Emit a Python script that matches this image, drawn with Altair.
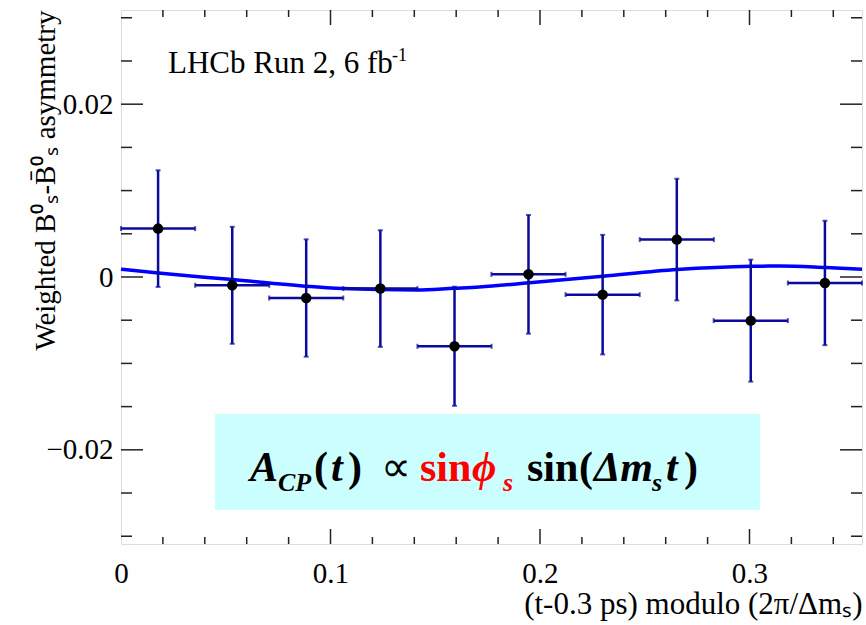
import altair as alt
import pandas as pd

# ---- data ----
X_CENTER = [0.0177, 0.0531, 0.0884, 0.1238, 0.1592, 0.1945, 0.2299, 0.2653, 0.3006, 0.3360]
X_HALF = [0.0177, 0.0177, 0.0177, 0.0177, 0.0177, 0.0177, 0.0177, 0.0177, 0.0177, 0.0177]
Y_VALUE = [0.0056, -0.00096, -0.00243, -0.00134, -0.00802, 0.00031, -0.00204, 0.00433, -0.00505, -0.00069]
Y_ERR = [0.00675, 0.00677, 0.00679, 0.00675, 0.00689, 0.00687, 0.00692, 0.00704, 0.00706, 0.0072]

CURVE_X = [0.0, 0.0178, 0.0533, 0.0886, 0.106, 0.124, 0.141, 0.159, 0.171, 0.195, 0.230, 0.2655, 0.301, 0.3146, 0.3364, 0.3537]
CURVE_Y = [0.0009, 0.00046, -0.0003, -0.00108, -0.00134, -0.00146, -0.0015, -0.0013, -0.00116, -0.00067, 0.00008, 0.00086, 0.00124, 0.00127, 0.00109, 0.0009]

X_TICKS_LABELLED = [0, 0.1, 0.2, 0.3]
Y_TICKS_LABELLED = [-0.02, 0, 0.02]
X_MAJOR = [0.1, 0.2, 0.3]
X_MINOR = [0.02, 0.04, 0.06, 0.08, 0.12, 0.14, 0.16, 0.18, 0.22, 0.24, 0.26, 0.28, 0.32, 0.34]
Y_MAJOR = [-0.02, 0.0, 0.02]
Y_MINOR = [-0.03, -0.025, -0.015, -0.01, -0.005, 0.005, 0.01, 0.015, 0.025, 0.03]

X_DOMAIN = [0, 0.3537]
Y_DOMAIN = [-0.0309, 0.0309]

W, H = 741, 534
SERIF = "Liberation Serif, Times New Roman, Times, serif"
BAR_COLOR = "#0a0a9c"

xs = alt.Scale(domain=X_DOMAIN, nice=False, zero=False)
ys = alt.Scale(domain=Y_DOMAIN, nice=False, zero=False)

points = pd.DataFrame({"x": X_CENTER, "xh": X_HALF, "y": Y_VALUE, "e": Y_ERR})
curve = pd.DataFrame({"x": CURVE_X, "y": CURVE_Y})

base = alt.Chart(points).transform_calculate(
    xlo="datum.x - datum.xh", xhi="datum.x + datum.xh",
    ylo="datum.y - datum.e", yhi="datum.y + datum.e",
)

x_axis = alt.Axis(
    values=X_TICKS_LABELLED, ticks=False, domain=False, grid=False,
    labelExpr="datum.value == 0 ? '0' : format(datum.value, '.1f')",
    labelFont=SERIF, labelFontSize=29, labelColor="black", labelPadding=15,
    labelFlush=False, labelOverlap=False,
    title="(t-0.3 ps) modulo (2π/Δmₛ)", titleFont=SERIF, titleFontSize=31,
    titleFontWeight="normal", titleColor="black", titleAnchor="end",
    titleAlign="right", titleBaseline="alphabetic", titleX=W, titleY=69,
)
y_axis = alt.Axis(
    values=Y_TICKS_LABELLED, ticks=False, domain=False, grid=False,
    labelExpr="datum.value == 0 ? '0' : (datum.value < 0 ? '\u2212' : '') + format(abs(datum.value), '.2f')",
    labelFont=SERIF, labelFontSize=29, labelColor="black", labelPadding=8,
    labelOverlap=False, labelFlush=False,
    title="Weighted B⁰ₛ-B̄⁰ₛ asymmetry", titleFont=SERIF, titleFontSize=29,
    titleFontWeight="normal", titleColor="black", titleAnchor="end",
    titleAngle=270, titleAlign="right", titleBaseline="middle", titleX=-76, titleY=0,
)

line = alt.Chart(curve).mark_line(color="#0000ff", strokeWidth=3.5, interpolate="monotone").encode(
    x=alt.X("x:Q", scale=xs, axis=x_axis),
    y=alt.Y("y:Q", scale=ys, axis=y_axis),
)

vbar = base.mark_rule(color=BAR_COLOR, strokeWidth=2.5).encode(
    x=alt.X("x:Q", scale=xs), y=alt.Y("ylo:Q", scale=ys), y2="yhi:Q")
hbar = base.mark_rule(color=BAR_COLOR, strokeWidth=2.5).encode(
    x=alt.X("xlo:Q", scale=xs), x2="xhi:Q", y=alt.Y("y:Q", scale=ys))
cap_top = base.mark_tick(color=BAR_COLOR, orient="horizontal", size=5, thickness=2).encode(
    x=alt.X("x:Q", scale=xs), y=alt.Y("yhi:Q", scale=ys))
cap_bot = base.mark_tick(color=BAR_COLOR, orient="horizontal", size=5, thickness=2).encode(
    x=alt.X("x:Q", scale=xs), y=alt.Y("ylo:Q", scale=ys))
cap_l = base.mark_tick(color=BAR_COLOR, orient="vertical", size=5, thickness=2).encode(
    x=alt.X("xlo:Q", scale=xs), y=alt.Y("y:Q", scale=ys))
cap_r = base.mark_tick(color=BAR_COLOR, orient="vertical", size=5, thickness=2).encode(
    x=alt.X("xhi:Q", scale=xs), y=alt.Y("y:Q", scale=ys))
dots = base.mark_circle(color="black", opacity=1, size=110).encode(
    x=alt.X("x:Q", scale=xs), y=alt.Y("y:Q", scale=ys))


def xticks(vals, length):
    df = pd.DataFrame({"v": vals})
    bot = alt.Chart(df).mark_rule(color="#222", strokeWidth=1.5).encode(
        x=alt.X("v:Q", scale=xs), y=alt.value(H), y2=alt.value(H - length))
    top = alt.Chart(df).mark_rule(color="#222", strokeWidth=1.5).encode(
        x=alt.X("v:Q", scale=xs), y=alt.value(0), y2=alt.value(length))
    return [bot, top]


def yticks(vals, length):
    df = pd.DataFrame({"v": vals})
    left = alt.Chart(df).mark_rule(color="#222", strokeWidth=1.5).encode(
        y=alt.Y("v:Q", scale=ys), x=alt.value(0), x2=alt.value(length))
    right = alt.Chart(df).mark_rule(color="#222", strokeWidth=1.5).encode(
        y=alt.Y("v:Q", scale=ys), x=alt.value(W), x2=alt.value(W - length))
    return [left, right]


tick_layers = xticks(X_MAJOR, 15) + xticks(X_MINOR, 7) + yticks(Y_MAJOR, 22) + yticks(Y_MINOR, 11)

one = alt.Data(values=[{}])


def label(text, x, y, size, color="black", weight="normal", style="normal", align="left", baseline="alphabetic"):
    return alt.Chart(one).mark_text(
        text=text, font=SERIF, fontSize=size, color=color, fontWeight=weight,
        fontStyle=style, align=align, baseline=baseline,
    ).encode(x=alt.value(x), y=alt.value(y))


box = alt.Chart(one).mark_rect(color="#ccffff", opacity=1).encode(
    x=alt.value(94), x2=alt.value(639), y=alt.value(404), y2=alt.value(500))

OX, OY = 121, 10  # page offset of plot origin
BL, SB = 481 - OY, 491 - OY
FS, SS = 42, 26
RED = "#ff0000"
formula = [
    label("A", 250 - OX, BL, FS, weight="bold", style="italic"),
    label("CP", 278 - OX, SB, SS, weight="bold", style="italic"),
    label("(", 314 - OX, BL, FS, weight="bold"),
    label("t", 331 - OX, BL, FS, weight="bold", style="italic"),
    label(")", 348 - OX, BL, FS, weight="bold"),
    label("∝", 381 - OX, BL, FS),
    label("sin", 420 - OX, BL, FS, color=RED, weight="bold"),
    label("ϕ", 472 - OX, BL, FS, color=RED, weight="bold", style="italic"),
    label("s", 503 - OX, SB, SS, color=RED, weight="bold", style="italic"),
    label("sin", 527 - OX, BL, FS, weight="bold"),
    label("(", 579 - OX, BL, FS, weight="bold"),
    label("Δm", 594 - OX, BL, FS, weight="bold", style="italic"),
    label("s", 652 - OX, SB, SS, weight="bold", style="italic"),
    label("t", 666 - OX, BL, FS, weight="bold", style="italic"),
    label(")", 684 - OX, BL, FS, weight="bold"),
]

lhcb = [
    label("LHCb Run 2, 6 fb", 168 - OX, 73 - OY, 31),
    label("-1", 392 - OX, 61 - OY, 18),
]

chart = alt.layer(
    line, *tick_layers, box, *formula, *lhcb, vbar, hbar, cap_top, cap_bot, cap_l, cap_r, dots,
).properties(
    width=W, height=H,
    autosize=alt.AutoSizeParams(type="none"),
    padding={"left": OX, "top": OY, "right": 866 - OX - W, "bottom": 625 - OY - H},
).configure_view(stroke="black", strokeWidth=2.5).configure(background="white")

chart.save("out.html", embed_options={"renderer": "svg", "actions": False})
